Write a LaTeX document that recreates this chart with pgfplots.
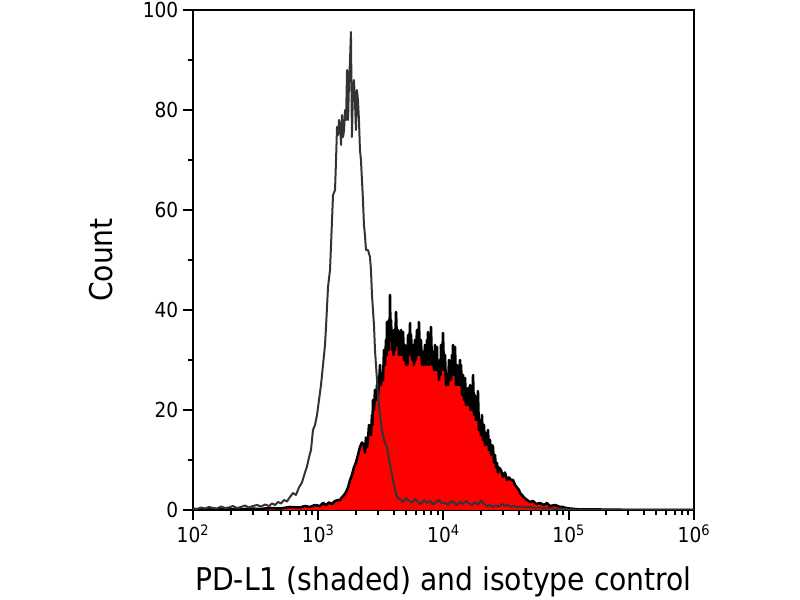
\documentclass[border=0pt]{standalone}
\usepackage{pgfplots}
\pgfplotsset{compat=1.18}
\usepackage{pgfplotstable}
\usepackage{fontspec}
\setmainfont{DejaVu Sans Condensed}
\definecolor{isogray}{HTML}{333333}

\pgfplotstableread{
L y
2.000 0.3
2.032 0.2
2.064 0.5
2.096 0.3
2.128 0.6
2.160 0.4
2.192 0.3
2.224 0.7
2.255 0.4
2.287 0.5
2.319 0.8
2.351 0.4
2.383 0.6
2.415 0.9
2.447 0.5
2.479 0.8
2.511 1.0
2.543 0.7
2.575 1.1
2.607 0.8
2.631 1.3
2.655 1.0
2.679 1.6
2.703 1.3
2.727 2.0
2.750 1.7
2.774 2.6
2.798 3.4
2.822 3.0
2.846 4.5
2.870 5.5
2.894 7.5
2.910 8.7
2.926 10.5
2.942 12.0
2.958 16.0
2.974 17.0
2.990 19.0
3.006 22.0
3.022 25.0
3.038 29.0
3.054 33.0
3.062 36.6
3.078 44.6
3.094 48.0
3.110 58.0
3.118 63.0
3.134 64.0
3.142 70.0
3.150 76.6
3.158 75.0
3.166 78.0
3.174 77.0
3.182 73.0
3.190 79.0
3.198 74.6
3.206 76.0
3.214 80.0
3.222 78.0
3.230 88.0
3.238 78.0
3.246 86.0
3.254 90.0
3.261 95.6
3.269 74.6
3.277 84.0
3.285 86.0
3.293 82.0
3.301 76.0
3.309 84.0
3.317 82.0
3.325 78.0
3.333 72.0
3.341 70.0
3.349 66.0
3.357 62.0
3.365 57.0
3.373 55.0
3.381 52.0
3.397 52.0
3.413 50.6
3.421 48.0
3.429 43.0
3.437 40.0
3.445 37.0
3.453 32.0
3.461 29.0
3.469 26.0
3.477 23.0
3.493 19.0
3.509 16.0
3.525 14.0
3.549 12.6
3.573 9.0
3.597 6.0
3.613 4.0
3.629 2.6
3.653 2.2
3.677 1.6
3.701 2.4
3.725 1.8
3.749 1.5
3.772 2.2
3.796 1.6
3.820 1.2
3.844 2.0
3.868 1.4
3.892 1.8
3.916 1.1
3.940 1.6
3.964 2.0
3.988 1.3
4.012 1.5
4.036 1.0
4.060 1.8
4.084 1.4
4.108 1.0
4.132 1.6
4.156 1.2
4.180 1.8
4.204 1.3
4.228 1.0
4.251 1.6
4.275 1.1
4.299 1.9
4.323 1.2
4.347 0.8
4.371 1.0
4.395 0.6
4.419 0.9
4.443 0.7
4.467 1.2
4.491 0.8
4.515 1.0
4.539 0.6
4.563 0.9
4.587 0.5
4.611 0.7
4.651 0.5
4.691 0.6
4.731 0.4
4.770 0.5
4.810 0.3
4.850 0.4
4.890 0.2
4.930 0.3
5.010 0.1
5.090 0.0
5.250 0.0
5.649 0.0
6.000 0.0
}\isotype

\pgfplotstableread{
L y
2.000 0.2
2.056 0.1
2.136 0.2
2.216 0.1
2.295 0.2
2.375 0.1
2.455 0.3
2.535 0.2
2.615 0.4
2.695 0.3
2.774 0.6
2.854 0.5
2.894 0.8
2.934 0.6
2.974 1.0
3.014 0.8
3.038 1.4
3.062 1.0
3.086 1.5
3.110 1.2
3.134 1.8
3.158 2.0
3.174 2.0
3.190 2.6
3.206 3.0
3.222 3.6
3.238 4.5
3.254 6.0
3.269 7.0
3.285 8.5
3.301 9.5
3.317 11.0
3.333 12.6
3.349 13.5
3.365 13.0
3.373 11.5
3.381 14.5
3.389 12.5
3.397 14.0
3.405 17.0
3.413 16.0
3.421 15.0
3.429 19.0
3.433 17.0
3.437 22.0
3.445 20.0
3.453 24.0
3.461 22.0
3.469 25.0
3.477 23.0
3.485 25.0
3.493 29.0
3.501 25.0
3.509 27.0
3.517 26.0
3.525 32.0
3.533 29.0
3.541 34.0
3.545 31.0
3.549 37.6
3.553 33.0
3.557 35.0
3.561 32.0
3.565 38.0
3.569 34.0
3.573 43.0
3.577 35.0
3.581 38.0
3.589 32.0
3.597 33.6
3.601 31.0
3.605 36.0
3.613 32.0
3.621 39.6
3.629 33.0
3.637 36.0
3.645 31.0
3.653 34.4
3.657 31.0
3.661 36.0
3.669 31.0
3.677 35.6
3.685 30.0
3.693 33.0
3.701 29.0
3.709 31.6
3.713 29.0
3.717 35.0
3.725 31.0
3.733 37.4
3.737 32.0
3.741 35.0
3.749 30.0
3.757 33.0
3.764 29.0
3.772 34.0
3.780 30.0
3.788 36.0
3.796 31.0
3.804 37.6
3.812 31.0
3.820 34.0
3.828 29.0
3.836 31.6
3.844 29.0
3.852 33.0
3.860 29.0
3.868 34.0
3.872 30.0
3.876 35.6
3.884 29.0
3.892 33.0
3.896 30.0
3.900 36.6
3.908 29.0
3.916 31.6
3.924 28.0
3.932 33.0
3.940 28.0
3.948 32.6
3.952 28.0
3.956 30.0
3.964 26.0
3.972 29.0
3.976 27.0
3.980 33.0
3.988 28.0
3.996 35.4
4.004 28.0
4.012 31.0
4.020 25.0
4.028 27.0
4.036 25.0
4.044 30.0
4.048 26.0
4.052 28.4
4.060 26.0
4.068 31.0
4.072 27.0
4.076 33.0
4.084 27.0
4.092 32.6
4.100 25.0
4.108 29.0
4.112 25.0
4.116 28.4
4.124 25.0
4.132 30.0
4.136 25.0
4.140 29.0
4.148 23.0
4.156 27.0
4.164 22.0
4.172 26.4
4.180 21.0
4.188 24.0
4.192 21.0
4.196 24.4
4.204 21.0
4.212 25.0
4.216 20.0
4.220 23.0
4.228 20.0
4.236 27.0
4.244 19.0
4.251 23.0
4.259 18.0
4.267 22.0
4.271 19.0
4.275 23.8
4.283 16.0
4.291 18.0
4.299 15.0
4.307 19.0
4.315 14.0
4.323 17.0
4.331 13.0
4.339 15.4
4.347 13.0
4.355 16.0
4.363 12.0
4.371 14.0
4.379 11.0
4.387 13.0
4.395 12.6
4.403 9.5
4.411 11.0
4.419 8.5
4.427 9.4
4.435 7.5
4.443 8.5
4.459 8.0
4.475 6.6
4.491 7.5
4.507 6.0
4.523 6.5
4.539 6.0
4.555 6.0
4.571 5.0
4.587 4.5
4.603 4.0
4.611 3.4
4.627 3.0
4.643 2.5
4.667 2.0
4.691 1.6
4.715 1.8
4.739 1.2
4.770 1.4
4.802 1.0
4.826 1.4
4.850 0.8
4.890 1.0
4.930 0.6
4.954 0.6
4.978 0.4
5.010 0.3
5.050 0.2
5.090 0.1
5.250 0.1
5.569 0.0
6.000 0.0
}\pdlone

\begin{document}
\begin{tikzpicture}
\begin{axis}[
  at={(0pt,0pt)}, anchor=south west,
  scale only axis,
  width=375.75pt, height=375pt,
  xmin=2, xmax=6, ymin=0, ymax=100,
  axis line style={line width=1.5pt},
  tick style={line width=1.5pt, black},
  tick align=outside,
  xtick pos=bottom, ytick pos=left,
  major tick length=7.5pt, minor tick length=3.75pt,
  xtick={2,3,4,5,6},
  xticklabels={10\textsuperscript{2},10\textsuperscript{3},10\textsuperscript{4},10\textsuperscript{5},10\textsuperscript{6}},
  minor xtick={2.301,2.477,2.602,2.699,2.778,2.845,2.903,2.954,
               3.301,3.477,3.602,3.699,3.778,3.845,3.903,3.954,
               4.301,4.477,4.602,4.699,4.778,4.845,4.903,4.954,
               5.301,5.477,5.602,5.699,5.778,5.845,5.903,5.954},
  ytick={0,20,40,60,80,100},
  minor ytick={10,30,50,70,90},
  /pgf/number format/assume math mode=true,
  ticklabel style={font=\fontsize{15.5pt}{18pt}\selectfont},
  every axis x label/.style={at={(axis description cs:0.5,-0.16)}, anchor=base},
  every axis y label/.style={at={(axis description cs:-0.1597,0.5)}, anchor=base, rotate=90},
  label style={font=\fontsize{23.5pt}{28pt}\selectfont},
  xlabel={PD-L1 (shaded) and isotype control},
  ylabel={Count},
]
\addplot[fill=red, draw=none] table[x=L, y=y] {\pdlone} \closedcycle;
\addplot[black, line width=1.9pt, line join=round] table[x=L, y=y] {\pdlone};
\addplot[isogray, line width=1.5pt, line join=round] table[x=L, y=y] {\isotype};
\end{axis}
\pgfresetboundingbox
\path[use as bounding box] (-144.75pt,-67.5pt) rectangle (455.25pt,382.5pt);
\end{tikzpicture}
\end{document}
